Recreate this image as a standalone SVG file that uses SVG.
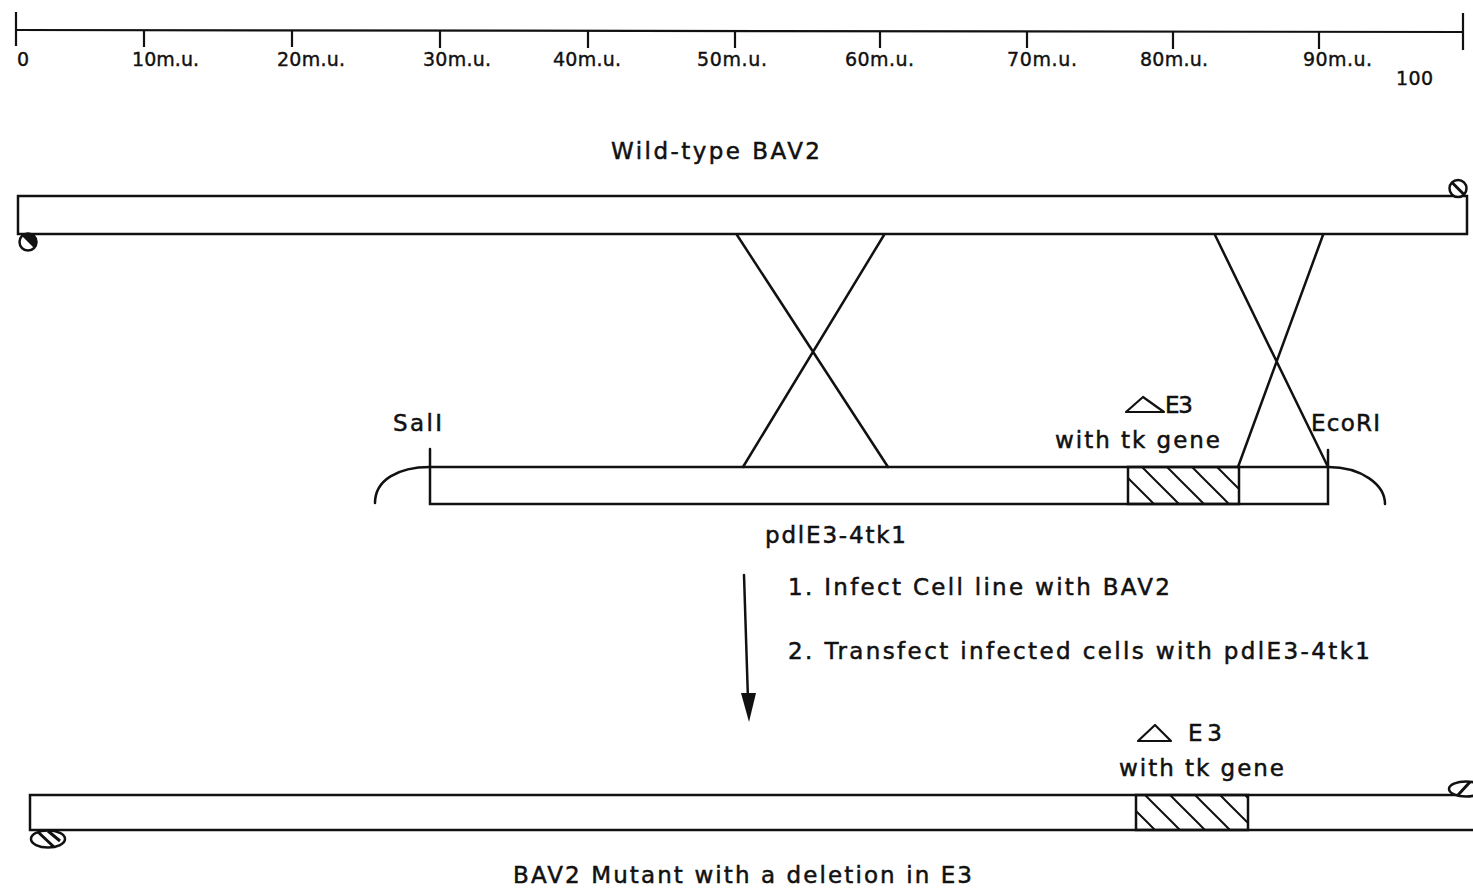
<svg xmlns="http://www.w3.org/2000/svg" width="1473" height="890" viewBox="0 0 1473 890">
<style>
.ln{stroke:#111;stroke-width:2.5;fill:none;stroke-linecap:round}
.bar{stroke:#111;stroke-width:2.5;fill:#fff}
.tk{stroke:#111;stroke-width:2.2;fill:none}
.t{font-family:"DejaVu Sans",sans-serif;font-size:23px;fill:#111;stroke:#111;stroke-width:0.5}
.s{font-family:"DejaVu Sans",sans-serif;font-size:19px;fill:#111;stroke:#111;stroke-width:0.4}
</style>
<defs>
<pattern id="hatch" patternUnits="userSpaceOnUse" width="25" height="25">
<path d="M0,0 L25,25 M-5,20 L5,30 M20,-5 L30,5" stroke="#111" stroke-width="2"/>
</pattern>
</defs>
<rect width="1473" height="890" fill="#fff"/>

<g id="scale">
<path class="tk" d="M16,30 L1463,32"/>
<path class="tk" d="M16,12 V46 M1463,13 V50"/>
<path class="tk" d="M144,30 V47 M292,30 V47 M440,31 V48 M588,31 V48 M735,31 V48 M880,31 V48 M1027,31 V48 M1173,32 V49 M1319,32 V49"/>
<text class="s" x="17" y="66">0</text>
<text class="s" x="132" y="66" textLength="67" lengthAdjust="spacing">10m.u.</text>
<text class="s" x="277" y="66" textLength="68" lengthAdjust="spacing">20m.u.</text>
<text class="s" x="423" y="66" textLength="68" lengthAdjust="spacing">30m.u.</text>
<text class="s" x="553" y="66" textLength="68" lengthAdjust="spacing">40m.u.</text>
<text class="s" x="697" y="66" textLength="70" lengthAdjust="spacing">50m.u.</text>
<text class="s" x="845" y="66" textLength="69" lengthAdjust="spacing">60m.u.</text>
<text class="s" x="1007" y="66" textLength="70" lengthAdjust="spacing">70m.u.</text>
<text class="s" x="1140" y="66" textLength="68" lengthAdjust="spacing">80m.u.</text>
<text class="s" x="1303" y="66" textLength="69" lengthAdjust="spacing">90m.u.</text>
<text class="s" x="1396" y="85" textLength="37" lengthAdjust="spacing">100</text>
</g>

<g id="wildtype">
<text class="t" x="611" y="159" textLength="209" lengthAdjust="spacing">Wild-type BAV2</text>
<rect class="bar" x="18" y="196" width="1449" height="38"/>
<circle cx="28" cy="242" r="8.5" fill="#fff" stroke="#111" stroke-width="2.5"/>
<path d="M22,236 A8.5,8.5 0 0 1 34,248 Z" fill="#111"/>
<circle cx="1458" cy="188.5" r="8.5" fill="#fff" stroke="#111" stroke-width="2.5"/>
<path d="M1452,182.5 L1464,194.5" stroke="#111" stroke-width="3"/>
</g>

<g id="plasmid">
<text class="t" x="393" y="431" textLength="49" lengthAdjust="spacing">SalI</text>
<text class="t" x="1311" y="431" textLength="69" lengthAdjust="spacing">EcoRI</text>
<polygon points="1126,412 1164,412 1143,397" fill="none" stroke="#111" stroke-width="2.2" stroke-linejoin="round"/>
<text class="t" x="1165" y="413" textLength="28" lengthAdjust="spacing">E3</text>
<text class="t" x="1055" y="448" textLength="165" lengthAdjust="spacing">with tk gene</text>
<rect class="bar" x="430" y="467" width="898" height="37"/>
<rect x="1128" y="467" width="111" height="37" fill="url(#hatch)" stroke="#111" stroke-width="2.5"/>
<path class="ln" d="M430,449 V467 M1328,450 V467"/>
<path class="ln" d="M375,503 C375,480 398,467 430,467"/>
<path class="ln" d="M1328,467 C1362,467 1385,485 1385,504"/>
<text class="t" x="765" y="543" textLength="141" lengthAdjust="spacing">pdlE3-4tk1</text>
</g>

<g id="steps">
<text class="t" x="788" y="595" textLength="382" lengthAdjust="spacing">1. Infect Cell line with BAV2</text>
<text class="t" x="788" y="659" textLength="582" lengthAdjust="spacing">2. Transfect infected cells with pdlE3-4tk1</text>
</g>

<g id="mutant">
<polygon points="1138,741 1171,741 1155,725" fill="none" stroke="#111" stroke-width="2.2" stroke-linejoin="round"/>
<text class="t" x="1188" y="741" textLength="34" lengthAdjust="spacing">E3</text>
<text class="t" x="1119" y="776" textLength="165" lengthAdjust="spacing">with tk gene</text>
<path d="M1475,795 H30 V830 H1475" fill="#fff" stroke="#111" stroke-width="2.5"/>
<rect x="1136" y="795" width="112" height="35" fill="url(#hatch)" stroke="#111" stroke-width="2.5"/>
<ellipse cx="48" cy="839" rx="17" ry="8.5" fill="#fff" stroke="#111" stroke-width="2.5"/>
<path d="M38,832 L54,847 M48,831 L60,841" stroke="#111" stroke-width="3"/>
<ellipse cx="1466" cy="789" rx="17" ry="7.5" fill="#fff" stroke="#111" stroke-width="2.5"/>
<path d="M1458,795 L1470,782" stroke="#111" stroke-width="3"/>
<text class="t" x="513" y="883" textLength="459" lengthAdjust="spacing">BAV2 Mutant with a deletion in E3</text>
</g>

<g id="connectors">
<path class="ln" d="M737,235 L888,467 M884,235 L743,467"/>
<path class="ln" d="M1215,235 L1328,467 M1323,235 L1238,467"/>
<path class="ln" d="M744,575 L748,700"/>
<polygon points="741,693 756,693 749,722" fill="#111"/>
</g>
</svg>
